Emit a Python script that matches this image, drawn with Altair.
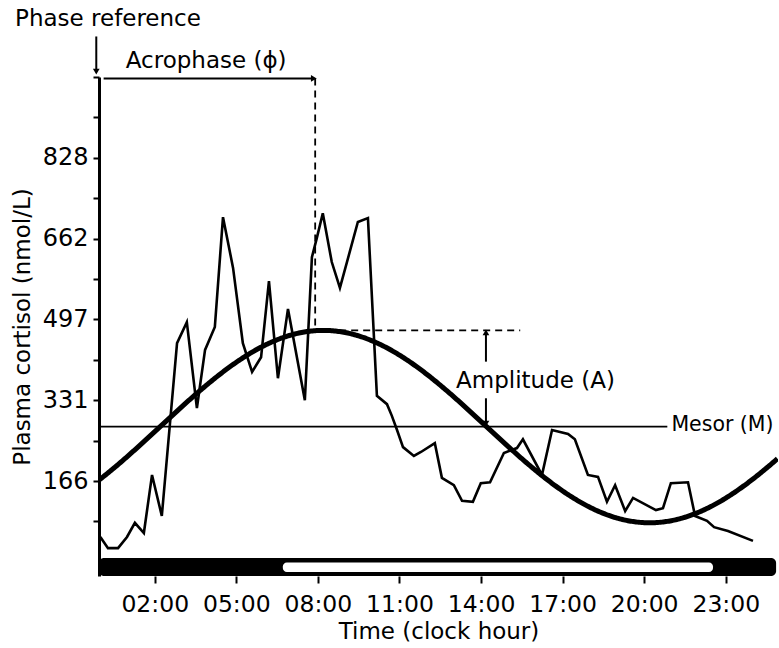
import altair as alt
import pandas as pd

# ---------------- data ----------------
hours = [0.0, 0.28, 0.65, 0.98, 1.27, 1.60, 1.90, 2.26, 2.82, 3.18,
         3.55, 3.85, 4.21, 4.51, 4.88, 5.24, 5.58, 5.91, 6.20, 6.53,
         6.90, 7.52, 7.78, 7.96, 8.18, 8.51, 8.81, 9.47, 9.84, 10.17,
         10.54, 10.72, 10.91, 11.13, 11.53, 11.79, 12.30, 12.56, 13.00, 13.30,
         13.70, 13.99, 14.33, 14.84, 15.32, 15.54, 16.24, 16.61, 17.20, 17.45,
         17.93, 18.30, 18.63, 18.93, 19.30, 19.59, 20.43, 20.69, 20.98, 21.61,
         21.87, 22.31, 22.57, 23.08, 24.00]
cortisol = [51, 28, 28, 51, 80, 59, 178, 94, 448, 491,
            315, 434, 481, 706, 602, 448, 389, 419, 575, 376,
            518, 331, 624, 663, 714, 614, 561, 696, 704, 340,
            323, 299, 270, 235, 217, 225, 243, 172, 157, 125,
            123, 161, 163, 223, 233, 251, 178, 270, 262, 251,
            178, 174, 123, 157, 104, 131, 106, 110, 161, 163,
            94, 84, 71, 63, 43]

# cosinor parameters
mesor = 277
amplitude = 197
acrophase_h = 8.2
acrophase_mark_h = 7.9

# light / dark bar (hours)
bar_start, bar_end = -0.05, 24.85
light_start, light_end = 6.71, 22.53

x_tick_hours = [2, 5, 8, 11, 14, 17, 20, 23]
x_tick_labels = ["02:00", "05:00", "08:00", "11:00", "14:00", "17:00", "20:00", "23:00"]
y_step = 82.75
y_tick_values = [round(y_step * k, 2) for k in range(1, 13)]
y_tick_labels = ["", "166", "", "331", "", "497", "", "662", "", "828", "", ""]

X_DOMAIN = [-0.05, 24.92]
Y_DOMAIN = [-29, 993]
FONT = "DejaVu Sans"

sx = alt.Scale(domain=X_DOMAIN, nice=False, zero=False)
sy = alt.Scale(domain=Y_DOMAIN, nice=False, zero=False)

x_axis = alt.Axis(
    values=x_tick_hours,
    labelExpr="%s[indexof(%s, datum.value)]" % (str(x_tick_labels), str(x_tick_hours)),
    domain=False, grid=False, ticks=True, tickSize=7, tickWidth=2, tickColor="black",
    labelFont=FONT, labelFontSize=23.5, labelColor="black", labelPadding=9,
    title="Time (clock hour)", titleFont=FONT, titleFontSize=23, titleFontWeight="normal",
    titleColor="black", titlePadding=5, labelFlush=False,
)
y_axis = alt.Axis(
    values=y_tick_values,
    labelExpr="%s[round(datum.value / %s) - 1]" % (str(y_tick_labels), y_step),
    domain=True, domainWidth=3, domainColor="black", grid=False,
    ticks=True, tickSize=6, tickWidth=2, tickColor="black",
    labelFont=FONT, labelFontSize=24, labelColor="black", labelPadding=5,
    title="Plasma cortisol (nmol/L)", titleFont=FONT, titleFontSize=23,
    titleFontWeight="normal", titleColor="black", titlePadding=8, labelFlush=False,
)


def X(field):
    return alt.X(field, type="quantitative", scale=sx, axis=x_axis)


def Y(field):
    return alt.Y(field, type="quantitative", scale=sy, axis=y_axis)


# ---------------- light/dark bar ----------------
bar_df = pd.DataFrame({"x": [bar_start], "x2": [bar_end], "y": [8], "y2": [-29]})
light_df = pd.DataFrame({"x": [light_start], "x2": [light_end], "y": [-1.5], "y2": [-21]})
bar_black = alt.Chart(bar_df).mark_rect(color="black", cornerRadius=5).encode(
    x=X("x"), x2="x2", y=Y("y"), y2="y2")
bar_white = alt.Chart(light_df).mark_rect(color="white", cornerRadius=4).encode(
    x=X("x"), x2="x2", y=Y("y"), y2="y2")

# ---------------- reference lines ----------------
solid_df = pd.DataFrame({
    "x":  [-0.05, -0.15, 0.12, 14.18, 14.18],
    "x2": [20.85, -0.15, 7.80, 14.18, 14.18],
    "y":  [mesor, 1076, 990, 410, 335],
    "y2": [mesor, 1008, 990, 468, 283],
    "w":  [1.6, 2, 2, 2, 2],
})
solid = alt.Chart(solid_df).mark_rule(color="black").encode(
    x=X("x"), x2="x2", y=Y("y"), y2="y2", strokeWidth=alt.StrokeWidth("w:Q", scale=None))

dash_df = pd.DataFrame({
    "x":  [acrophase_mark_h, acrophase_mark_h],
    "x2": [acrophase_mark_h, 15.44],
    "y":  [990, 474],
    "y2": [474, 474],
})
dashed = alt.Chart(dash_df).mark_rule(color="black", strokeWidth=1.8, strokeDash=[7, 5]).encode(
    x=X("x"), x2="x2", y=Y("y"), y2="y2")

heads_df = pd.DataFrame({
    "x": [-0.15, 7.85, 14.18, 14.18],
    "y": [1004, 990, 470, 283],
    "shape": ["triangle-down", "triangle-right", "triangle-up", "triangle-down"],
})
heads = alt.Chart(heads_df).mark_point(filled=True, color="black", size=45, opacity=1).encode(
    x=X("x"), y=Y("y"), shape=alt.Shape("shape:N", scale=None))

# ---------------- cosine fit ----------------
cosine = alt.Chart(alt.sequence(-0.05, 24.95, 0.05, as_="t")).transform_calculate(
    v="%s + %s * cos(2 * PI * (datum.t - %s) / 24)" % (mesor, amplitude, acrophase_h)
).mark_line(color="black", strokeWidth=5, clip=True).encode(
    x=X("t"), y=Y("v"), order="t:Q")

# ---------------- observed cortisol ----------------
obs_df = pd.DataFrame({"t": hours, "v": cortisol})
observed = alt.Chart(obs_df).mark_line(color="black", strokeWidth=2.6, strokeJoin="miter").encode(
    x=X("t"), y=Y("v"), order="t:Q")

# ---------------- annotation texts ----------------
center_text_df = pd.DataFrame({
    "x": [0.28, 3.89, 16.0],
    "y": [1112, 1025, 371],
    "label": ["Phase reference", "Acrophase (\u03d5)", "Amplitude (A)"],
})
center_text = alt.Chart(center_text_df).mark_text(
    font=FONT, fontSize=23, color="black", align="center", baseline="middle").encode(
    x=X("x"), y=Y("y"), text="label:N")

left_text_df = pd.DataFrame({"x": [21.0], "y": [mesor + 4], "label": ["Mesor (M)"]})
left_text = alt.Chart(left_text_df).mark_text(
    font=FONT, fontSize=20.5, color="black", align="left", baseline="middle").encode(
    x=X("x"), y=Y("y"), text="label:N")

chart = alt.layer(
    bar_black, bar_white, solid, dashed, heads, cosine, observed, center_text, left_text
).properties(
    width=679, height=499,
    padding={"left": 99, "top": 77, "right": 1, "bottom": 72},
    autosize=alt.AutoSizeParams(type="none"),
    background="white",
).configure_view(stroke=None)

chart.save("out.html", embed_options={"renderer": "svg", "actions": False})
